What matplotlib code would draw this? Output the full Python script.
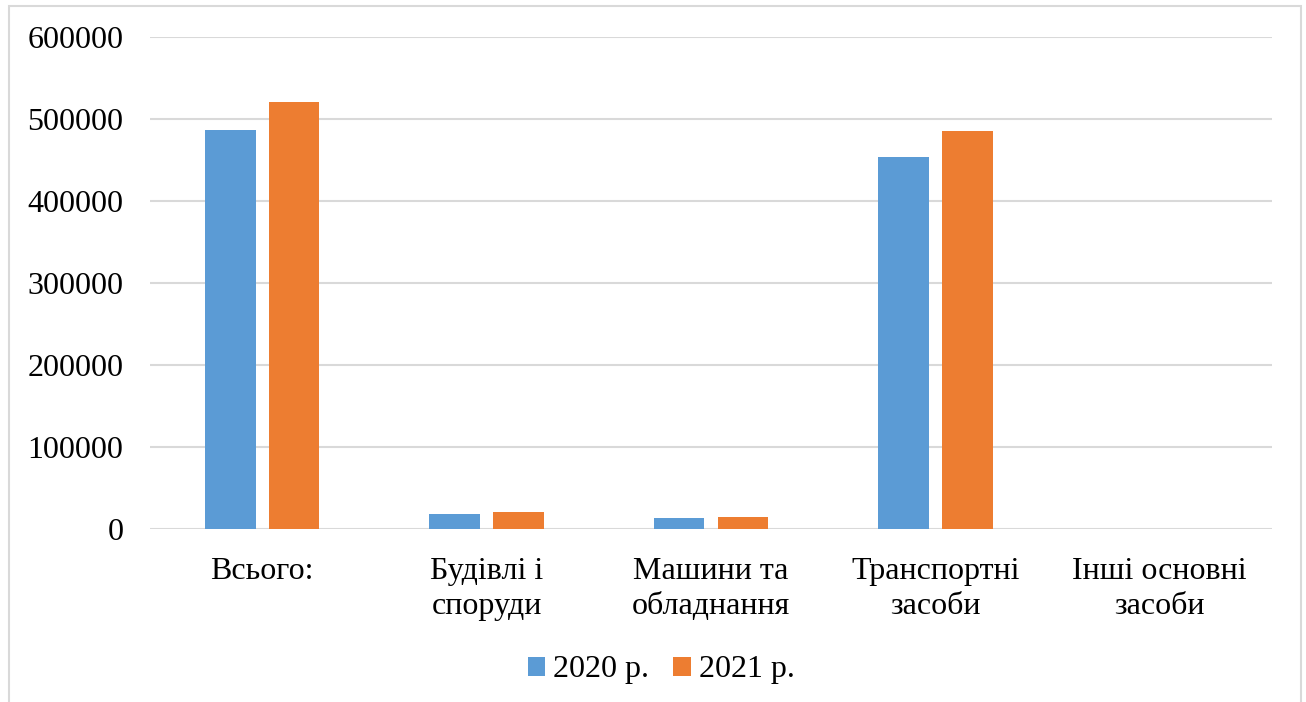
import matplotlib
matplotlib.use("Agg")
import matplotlib.pyplot as plt
from matplotlib.patches import Rectangle
import numpy as np

categories = ["Всього:", "Будівлі і\nспоруди", "Машини та\nобладнання",
              "Транспортні\nзасоби", "Інші основні\nзасоби"]
series_names = ["2020 р.", "2021 р."]
values_2020 = [486600, 18700, 14100, 453700, 0]
values_2021 = [521100, 20700, 14600, 485400, 0]
yticks = [0, 100000, 200000, 300000, 400000, 500000, 600000]

colors = ["#5B9BD5", "#ED7D31"]
grid_color = "#D9D9D9"

plt.rcParams["font.family"] = ["Liberation Serif", "DejaVu Serif"]

W, H = 1306, 702
fig = plt.figure(figsize=(W / 100, H / 100), dpi=100)
ax = fig.add_axes([150 / W, 1 - 529.3 / H, (1272 - 150) / W, (529.3 - 37.3) / H])

x = np.arange(len(categories))
bw = 0.226
off = 0.142
ax.bar(x - off, values_2020, width=bw, color=colors[0], label=series_names[0], zorder=3)
ax.bar(x + off, values_2021, width=bw, color=colors[1], label=series_names[1], zorder=3)

ax.set_xlim(-0.5, len(categories) - 0.5)
ax.set_ylim(0, 600000)
ax.set_yticks(yticks)
ax.set_yticklabels([str(v) for v in yticks])
ax.set_xticks(x)
ax.set_xticklabels(categories, linespacing=1.28)
ax.tick_params(axis="y", length=0, pad=19, labelsize=23)
ax.tick_params(axis="x", length=0, pad=20, labelsize=23)
for s in ax.spines.values():
    s.set_visible(False)
ax.yaxis.grid(True, color=grid_color, linewidth=1.5, zorder=0)
ax.set_axisbelow(True)

leg = fig.legend(loc="center", bbox_to_anchor=(661 / W, 1 - 670 / H), ncol=2,
                 frameon=False, fontsize=23, handlelength=0.55, handleheight=0.55,
                 handletextpad=0.25, columnspacing=0.75)

# chart area border
fig.patches.append(Rectangle((8.5 / W, -0.05), (1301 - 8.5) / W, 1.05 - 6 / H,
                             transform=fig.transFigure, fill=False,
                             edgecolor=grid_color, linewidth=1.5))

fig.savefig("out.png", dpi=100)
